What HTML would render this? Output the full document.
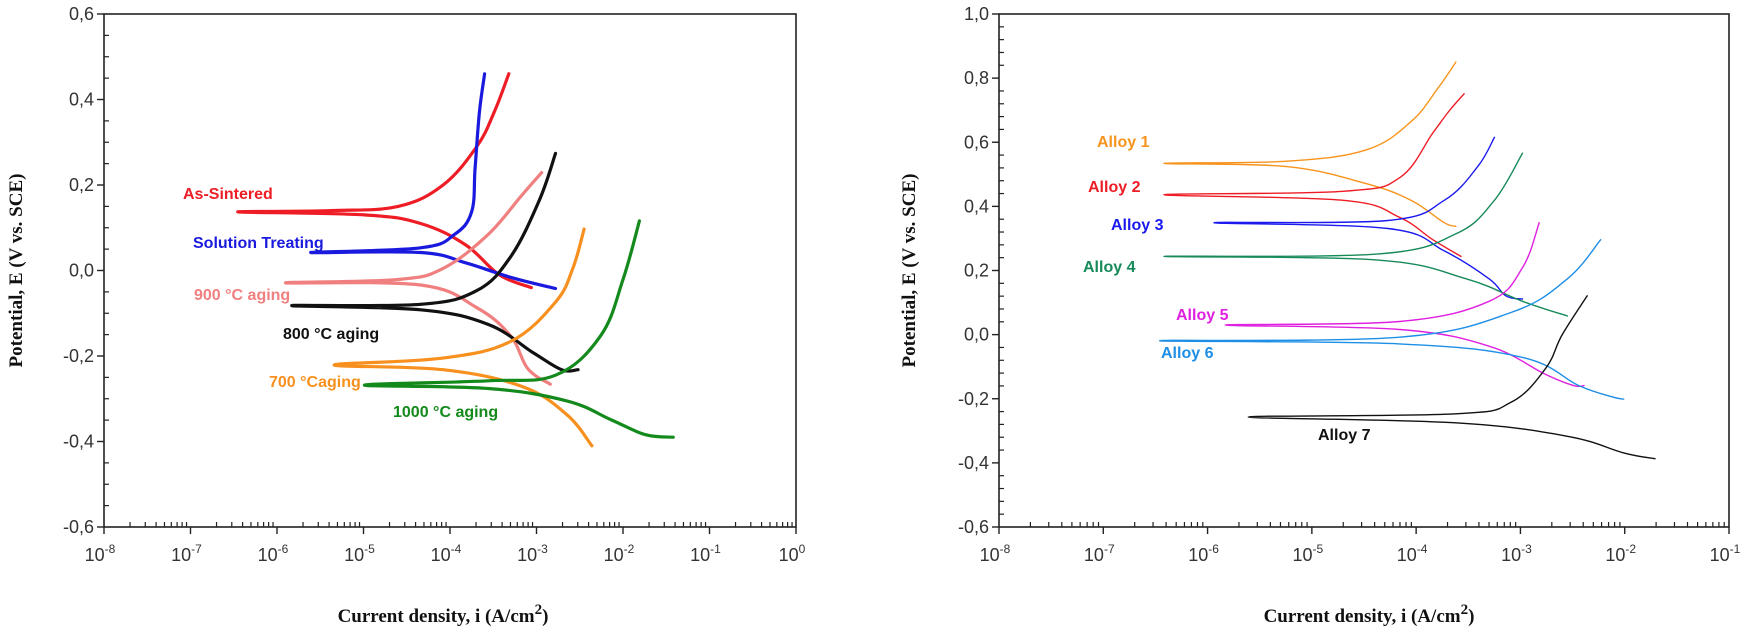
<!DOCTYPE html>
<html><head><meta charset="utf-8"><style>
html,body{margin:0;padding:0;background:#fff;}
svg{display:block;}
.tick{font-family:"Liberation Sans",sans-serif;font-size:18px;fill:#333;}
.sup{font-size:12px;}
.axt{font-family:"Liberation Serif",serif;font-weight:bold;font-size:19px;fill:#111;}
.lbl{font-family:"Liberation Sans",sans-serif;font-weight:bold;font-size:16px;}
</style></head><body>
<svg id="chart" width="1750" height="632" viewBox="0 0 1750 632" xmlns="http://www.w3.org/2000/svg"></svg>
<script>
// ---- Left chart data: [log10(i), E] ----
const leftNames = ["As-Sintered","Solution Treating","900 °C aging","800 °C aging","700 °Caging","1000 °C aging"];
const leftColors = ["#ee1c25","#1a1adf","#f08080","#111111","#f7901e","#138a1b"];
const leftAnodic = [
 [[-6.45,0.137],[-5.38,0.14],[-4.6,0.15],[-4.08,0.2],[-3.69,0.29],[-3.49,0.37],[-3.32,0.46]],
 [[-5.61,0.042],[-4.34,0.053],[-3.95,0.084],[-3.75,0.137],[-3.71,0.24],[-3.66,0.37],[-3.6,0.46]],
 [[-5.9,-0.029],[-4.6,-0.021],[-4.08,0.005],[-3.56,0.084],[-3.17,0.176],[-2.94,0.229]],
 [[-5.83,-0.082],[-4.34,-0.079],[-3.69,-0.047],[-3.3,0.032],[-2.97,0.163],[-2.78,0.274]],
 [[-5.34,-0.221],[-4.08,-0.205],[-3.3,-0.166],[-2.78,-0.074],[-2.58,0.005],[-2.45,0.097]],
 [[-4.99,-0.268],[-3.56,-0.258],[-2.78,-0.245],[-2.26,-0.153],[-2.0,-0.021],[-1.81,0.116]]
];
const leftCathodic = [
 [[-6.45,0.137],[-4.99,0.13],[-4.34,0.11],[-3.82,0.06],[-3.43,-0.01],[-3.06,-0.04]],
 [[-5.61,0.042],[-4.34,0.042],[-3.82,0.018],[-3.3,-0.016],[-2.78,-0.042]],
 [[-5.9,-0.029],[-4.34,-0.034],[-3.69,-0.087],[-3.3,-0.153],[-3.1,-0.23],[-2.84,-0.266]],
 [[-5.83,-0.082],[-4.34,-0.092],[-3.56,-0.126],[-3.04,-0.192],[-2.71,-0.232],[-2.52,-0.232]],
 [[-5.34,-0.221],[-4.08,-0.232],[-3.17,-0.271],[-2.65,-0.337],[-2.36,-0.41]],
 [[-4.99,-0.268],[-3.56,-0.276],[-2.65,-0.305],[-2.13,-0.35],[-1.74,-0.384],[-1.42,-0.39]]
];
const leftLabelPos = [[183,199],[193,248],[194,300],[283,339],[269,387],[393,417]];
const leftYTicks = ["0,6","0,4","0,2","0,0","-0,2","-0,4","-0,6"];
const leftXExp = ["-8","-7","-6","-5","-4","-3","-2","-1","0"];

// ---- Right chart data ----
const rightNames = ["Alloy 1","Alloy 2","Alloy 3","Alloy 4","Alloy 5","Alloy 6","Alloy 7"];
const rightColors = ["#f7941d","#ee1c25","#1a1aee","#178a5a","#e020e0","#1e8fe6","#111111"];
const rightAnodic = [
 [[-6.42,0.534],[-5.24,0.541],[-4.48,0.576],[-4.05,0.664],[-3.79,0.769],[-3.62,0.85]],
 [[-6.42,0.436],[-4.70,0.447],[-4.16,0.489],[-3.84,0.629],[-3.68,0.699],[-3.54,0.751]],
 [[-5.94,0.349],[-4.27,0.356],[-3.73,0.419],[-3.41,0.524],[-3.25,0.615]],
 [[-6.42,0.244],[-4.38,0.251],[-3.62,0.314],[-3.25,0.419],[-2.98,0.566]],
 [[-5.83,0.03],[-4.16,0.041],[-3.30,0.104],[-2.98,0.209],[-2.82,0.349]],
 [[-6.46,-0.019],[-4.16,-0.008],[-3.09,0.069],[-2.55,0.174],[-2.23,0.296]],
 [[-5.61,-0.257],[-3.62,-0.247],[-3.09,-0.211],[-2.76,-0.106],[-2.60,-0.001],[-2.36,0.121]]
];
const rightCathodic = [
 [[-6.42,0.534],[-5.24,0.524],[-4.48,0.471],[-4.05,0.419],[-3.73,0.349],[-3.62,0.338]],
 [[-6.42,0.436],[-4.70,0.419],[-4.16,0.366],[-3.84,0.296],[-3.57,0.244]],
 [[-5.94,0.349],[-4.27,0.331],[-3.73,0.261],[-3.30,0.174],[-3.14,0.121],[-2.98,0.111]],
 [[-6.42,0.244],[-4.38,0.233],[-3.52,0.174],[-2.98,0.104],[-2.55,0.058]],
 [[-5.83,0.03],[-4.16,0.016],[-3.30,-0.036],[-2.76,-0.124],[-2.49,-0.159],[-2.39,-0.159]],
 [[-6.46,-0.019],[-4.16,-0.029],[-2.98,-0.071],[-2.44,-0.159],[-2.12,-0.194],[-2.01,-0.201]],
 [[-5.61,-0.257],[-3.62,-0.275],[-2.55,-0.317],[-2.01,-0.369],[-1.71,-0.387]]
];
const rightLabelPos = [[1097,147],[1088,192],[1111,230],[1083,272],[1176,320],[1161,358],[1318,440]];
const rightYTicks = ["1,0","0,8","0,6","0,4","0,2","0,0","-0,2","-0,4","-0,6"];
const rightXExp = ["-8","-7","-6","-5","-4","-3","-2","-1"];

const NS="http://www.w3.org/2000/svg";
const svg=document.getElementById('chart');
function mk(tag,attrs,parent){const e=document.createElementNS(NS,tag);for(const k in attrs)e.setAttribute(k,attrs[k]);(parent||svg).appendChild(e);return e;}
function smoothPath(P){
  let d='M'+P[0][0].toFixed(1)+' '+P[0][1].toFixed(1);
  for(let i=0;i<P.length-1;i++){
    const p0=P[Math.max(0,i-1)],p1=P[i],p2=P[i+1],p3=P[Math.min(P.length-1,i+2)];
    const t=0.18;
    const c1=[p1[0]+(p2[0]-p0[0])*t,p1[1]+(p2[1]-p0[1])*t];
    const c2=[p2[0]-(p3[0]-p1[0])*t,p2[1]-(p3[1]-p1[1])*t];
    d+=' C'+c1[0].toFixed(1)+' '+c1[1].toFixed(1)+' '+c2[0].toFixed(1)+' '+c2[1].toFixed(1)+' '+p2[0].toFixed(1)+' '+p2[1].toFixed(1);
  }
  return d;
}

function drawChart(cfg){
  const g=mk('g',{});
  
  
  const {x0,x1,y0,y1,lmin,lmax,emin,emax}=cfg;
  const sx=l=>x0+(l-lmin)/(lmax-lmin)*(x1-x0);
  const sy=e=>y1-(e-emin)/(emax-emin)*(y1-y0);
  const fr=mk('rect',{x:x0,y:y0,width:x1-x0,height:y1-y0,fill:'none',stroke:'#222','stroke-width':1.6},g);
  
  
  const nY=cfg.yTicks.length;
  for(let i=0;i<nY;i++){
    const v=emax-i*0.2, y=sy(v);
    mk('line',{x1:x0-7,y1:y,x2:x0,y2:y,stroke:'#222','stroke-width':1.4},g);
    const t=mk('text',{x:x0-10,y:y+6,'text-anchor':'end',class:'tick'},g);
    t.textContent=cfg.yTicks[i];
    
    
    if(i<nY-1){for(let m=1;m<cfg.yMinor;m++){const ym=sy(v-0.2*m/cfg.yMinor);mk('line',{x1:x0,y1:ym,x2:x0+5,y2:ym,stroke:'#222','stroke-width':1.2},g);}}
  }
  cfg.xExp.forEach((ex,i)=>{
    const l=lmin+i, x=sx(l);
    mk('line',{x1:x,y1:y1,x2:x,y2:y1+7,stroke:'#222','stroke-width':1.4},g);
    const t=mk('text',{x:x-4,y:y1+34,'text-anchor':'middle',class:'tick'},g);
    t.textContent='10';
    const s=mk('tspan',{dy:-8,class:'sup'},t);s.textContent=ex;
    
    
    if(l<lmax){for(let m=2;m<10;m++){const xm=sx(l+Math.log10(m));mk('line',{x1:xm,y1:y1-5,x2:xm,y2:y1,stroke:'#222','stroke-width':1.2},g);}}
  });
  const yt=mk('text',{x:0,y:0,'text-anchor':'middle',class:'axt',transform:`translate(${cfg.ytx},${(y0+y1)/2}) rotate(-90)`},g);
  yt.textContent='Potential, E (V vs. SCE)';
  
  
  const xt=mk('text',{x:cfg.xtx,y:cfg.xty,'text-anchor':'middle',class:'axt'},g);
  xt.textContent='Current density, i (A/cm';
  const s2=mk('tspan',{dy:-8,'font-size':'15'},xt);s2.textContent='2';
  const s3=mk('tspan',{dy:8},xt);s3.textContent=')';
  
  
  cfg.names.forEach((nm,k)=>{
    const pts=cfg.cath[k].slice().reverse().concat(cfg.anod[k].slice(1)).map(p=>[sx(p[0]),sy(p[1])]);
    const path=mk('path',{d:smoothPath(pts),fill:'none',stroke:cfg.colors[k],'stroke-width':cfg.lw,'stroke-linejoin':'round','stroke-linecap':'round'},g);
    
    
    const lb=mk('text',{x:cfg.labelPos[k][0],y:cfg.labelPos[k][1],fill:cfg.colors[k],class:'lbl'},g);
    lb.textContent=nm;
    
    
  });
}
drawChart({name:'left-chart',x0:104,x1:796,y0:14,y1:527,lmin:-8,lmax:0,emin:-0.6,emax:0.6,yTicks:leftYTicks,xExp:leftXExp,yMinor:4,
  names:leftNames,colors:leftColors,anod:leftAnodic,cath:leftCathodic,labelPos:leftLabelPos,lw:3.2,ytx:22,xtx:443,xty:622});
drawChart({name:'right-chart',x0:999,x1:1729,y0:14,y1:527,lmin:-8,lmax:-1,emin:-0.6,emax:1.0,yTicks:rightYTicks,xExp:rightXExp,yMinor:5,
  names:rightNames,colors:rightColors,anod:rightAnodic,cath:rightCathodic,labelPos:rightLabelPos,lw:1.4,ytx:915,xtx:1369,xty:622});
</script>
</body></html>
